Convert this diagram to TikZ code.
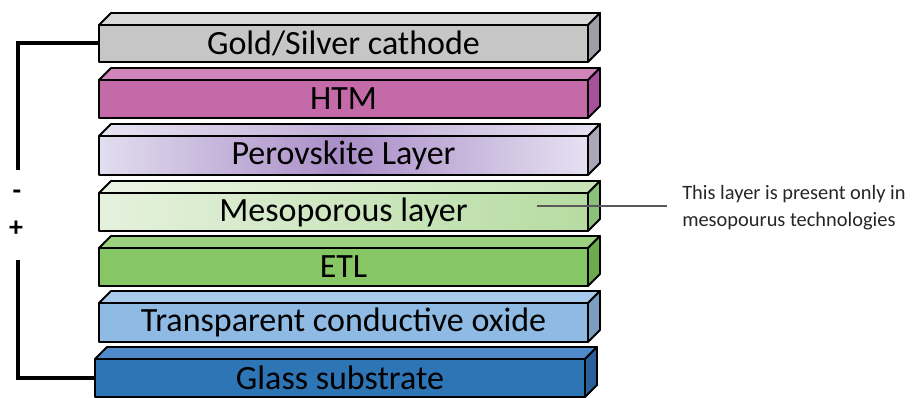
\documentclass[tikz,border=0pt]{standalone}
\usepackage{fontspec}
\setmainfont{Carlito}
\definecolor{goldF}{HTML}{C6C6C6}\definecolor{goldT}{HTML}{D8D8D8}\definecolor{goldS}{HTML}{9E9EA6}
\definecolor{htmF}{HTML}{C46AA8}\definecolor{htmT}{HTML}{D184BA}\definecolor{htmS}{HTML}{A8509A}
\definecolor{perL}{HTML}{E2DDEF}\definecolor{perM}{HTML}{A98DC7}\definecolor{perR}{HTML}{E6E1F2}\definecolor{perS}{HTML}{A9A7B8}
\definecolor{mesL}{HTML}{E5F1DD}\definecolor{mesR}{HTML}{B6DCA2}\definecolor{mesS}{HTML}{8AC27A}
\definecolor{etlF}{HTML}{86C665}\definecolor{etlT}{HTML}{9BD17F}\definecolor{etlS}{HTML}{6DAA4E}
\definecolor{tcoF}{HTML}{8EBAE3}\definecolor{tcoT}{HTML}{A8CBEC}\definecolor{tcoS}{HTML}{7A9DC0}
\definecolor{glsF}{HTML}{2E75B6}\definecolor{glsT}{HTML}{4F8ACB}\definecolor{glsS}{HTML}{2B609A}
\tikzset{
  face/.style={draw=black,line width=1.4pt,line join=round},
  front/.style={face,inner sep=0pt,outer sep=0pt,font=\fontsize{25.5}{30}\selectfont,text=black},
  wire/.style={line width=3pt,line join=miter},
  sign/.style={font=\fontsize{21}{24}\selectfont\bfseries,inner sep=0pt},
  note/.style={font=\fontsize{15.3}{20.5}\selectfont,align=left,inner sep=0pt,text=black!85},
  leader/.style={line width=0.8pt,draw=black!65}
}
\newcommand\mklayer[9]{%
  \path[face,#7] (#2,#3) -- (#2+12,#3-12) -- (#4+12,#3-12) -- (#4,#3) -- cycle;
  \path[face,#8] (#4,#3) -- (#4+12,#3-12) -- (#4+12,#5-12) -- (#4,#5) -- cycle;
  \node[front,#6,minimum width={(#4-#2)*0.75pt},minimum height={(#5-#3)*0.75pt}] (#1) at ({(#2+#4)/2},{(#3+#5)/2}) {#9};
}
\begin{document}
\begin{tikzpicture}[x=0.75pt,y=-0.75pt]
\useasboundingbox (0,0) rectangle (920,398);
\mklayer{gold}{99}{25}{588}{62}{fill=goldF}{fill=goldT}{fill=goldS}{Gold/Silver cathode}
\mklayer{htm}{99}{80}{588}{118}{fill=htmF}{fill=htmT}{fill=htmS}{HTM}
\mklayer{per}{99}{136}{588}{175}{left color=perL,right color=perR,middle color=perM}{left color=perL!80!white,right color=perR,middle color=perM!70!white}{fill=perS}{Perovskite Layer}
\mklayer{meso}{99}{193}{588}{231}{left color=mesL,right color=mesR}{left color=mesL!80!white,right color=mesR!80!white}{fill=mesS}{Mesoporous layer}
\mklayer{etl}{99}{248}{588}{286}{fill=etlF}{fill=etlT}{fill=etlS}{ETL}
\mklayer{tco}{99}{303}{588}{342}{fill=tcoF}{fill=tcoT}{fill=tcoS}{Transparent conductive oxide}
\mklayer{glass}{95}{359}{585}{397}{fill=glsF}{fill=glsT}{fill=glsS}{Glass substrate}
% circuit
\coordinate (c1) at (18,43.5);
\coordinate (c2) at (18,170);
\coordinate (c3) at (18,260);
\coordinate (c4) at (18,378);
\draw[wire] (gold.west) -- (c1) -- (c2);
\draw[wire] (c3) -- (c4) -- (glass.west);
\node[sign] (minus) at (17,195) {-};
\node[sign] (plus) at (16,229) {+};
% annotation
\coordinate (mp) at (537,206);
\node[note,anchor=west] (txt) at (682,208) {This layer is present only in\\mesopourus technologies};
\coordinate (ne) at (667,206);
\draw[leader] (mp) -- (ne);
\end{tikzpicture}
\end{document}
